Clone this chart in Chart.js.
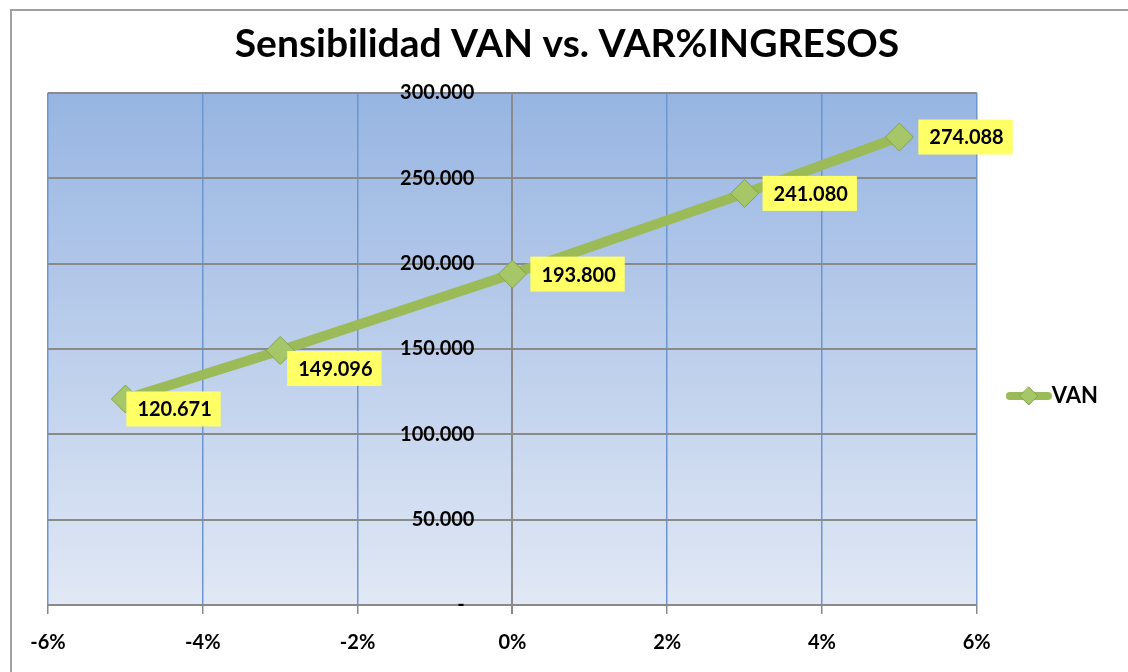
<!DOCTYPE html>
<html>
<head>
<meta charset="utf-8">
<script src="https://cdn.jsdelivr.net/npm/chart.js@4/dist/chart.umd.min.js"></script>
<style>
  html, body { margin: 0; padding: 0; background: #fff; }
  #wrap { width: 1128px; height: 672px; position: relative; }
</style>
</head>
<body>
<div id="wrap"><canvas id="chart" width="1128" height="672"></canvas></div>
<script>
// variación de ingresos (%) y VAN resultante
const variacion = [-5, -3, 0, 3, 5];
const van = [120671, 149096, 193800, 241080, 274088];
const seriesName = 'VAN';
const chartTitle = 'Sensibilidad VAN vs. VAR%INGRESOS';

// etiquetas movidas a mano como en el original (dx, dy respecto al punto)
const labelOffsets = [[1, 10], [7, 18], [18, 0], [18, 0], [19, 0]];

const FONT = 'Lato, "Open Sans", sans-serif';
const GREEN = '#9BBB59';

function fmtMiles(v) {
  if (v === 0) return '-  ';
  return String(Math.round(v)).replace(/\B(?=(\d{3})+(?!\d))/g, '.');
}

// muestra de leyenda: linea + rombo
function legendSample() {
  const c = document.createElement('canvas');
  c.width = 46; c.height = 22;
  const g = c.getContext('2d');
  g.strokeStyle = GREEN; g.lineWidth = 8; g.lineCap = 'round';
  g.beginPath(); g.moveTo(4, 11); g.lineTo(42, 11); g.stroke();
  g.fillStyle = '#A6C768'; g.strokeStyle = '#85A24A'; g.lineWidth = 1;
  g.beginPath(); g.moveTo(23, 2); g.lineTo(32, 11); g.lineTo(23, 20); g.lineTo(14, 11); g.closePath();
  g.fill(); g.stroke();
  return c;
}

const plotBackground = {
  id: 'plotBackground',
  beforeDraw(chart) {
    const {ctx, chartArea: a} = chart;
    ctx.save();
    // marco exterior del grafico
    ctx.strokeStyle = '#a0a0a0'; ctx.lineWidth = 2;
    ctx.beginPath(); ctx.moveTo(11, 680); ctx.lineTo(11, 10); ctx.lineTo(1140, 10); ctx.stroke();
    const grad = ctx.createLinearGradient(0, a.top, 0, a.bottom);
    grad.addColorStop(0, '#97B5E2');
    grad.addColorStop(1, '#E1E8F5');
    ctx.fillStyle = grad;
    ctx.fillRect(a.left, a.top, a.right - a.left, a.bottom - a.top);
    ctx.restore();
  }
};

const dataLabels = {
  id: 'dataLabels',
  afterDatasetsDraw(chart) {
    const {ctx} = chart;
    const meta = chart.getDatasetMeta(0);
    ctx.save();
    ctx.font = 'bold 20px ' + FONT;
    ctx.textBaseline = 'middle';
    meta.data.forEach((pt, i) => {
      const txt = fmtMiles(van[i]);
      const w = ctx.measureText(txt).width + 20;
      const h = 35;
      const [dx, dy] = labelOffsets[i];
      const x = pt.x + dx, y = pt.y + dy - h / 2;
      ctx.fillStyle = '#FFFF66';
      ctx.fillRect(x, y, w, h);
      ctx.fillStyle = '#000';
      ctx.fillText(txt, x + 11, y + h / 2 + 1);
    });
    ctx.restore();
  }
};

new Chart(document.getElementById('chart').getContext('2d'), {
  type: 'scatter',
  data: {
    datasets: [{
      label: seriesName,
      data: variacion.map((x, i) => ({x: x, y: van[i]})),
      showLine: true,
      borderColor: GREEN,
      borderWidth: 10,
      pointStyle: 'rectRot',
      pointRadius: 14,
      pointHoverRadius: 14,
      pointBackgroundColor: '#A6C768',
      pointBorderColor: '#85A24A',
      pointBorderWidth: 1
    }]
  },
  options: {
    responsive: false,
    animation: false,
    layout: { padding: { left: 26, right: 20, top: 0, bottom: 0 } },
    scales: {
      x: {
        type: 'linear',
        min: -6, max: 6,
        // margen izquierdo del area de trazado
        afterFit: scale => { scale.paddingLeft = 48; },
        ticks: {
          stepSize: 2,
          color: '#000',
          padding: 17,
          font: { family: FONT, size: 20, weight: 'bold' },
          callback: v => v + '%'
        },
        grid: {
          color: ctx => ctx.tick && ctx.tick.value === 0 ? '#8a8a8a' : '#6C96CF',
          lineWidth: ctx => ctx.tick && ctx.tick.value === 0 ? 2 : 1.5,
          tickLength: 9,
          tickColor: '#8a8a8a'
        },
        border: { color: '#8a8a8a', width: 2 }
      },
      y: {
        type: 'linear',
        // etiquetas a la izquierda del eje vertical (x = 0)
        position: { x: -0.49 },
        min: 0, max: 300000,
        ticks: {
          stepSize: 50000,
          color: '#000',
          font: { family: FONT, size: 20, weight: 'bold' },
          callback: v => fmtMiles(v)
        },
        grid: { color: '#8a8a8a', lineWidth: 2, drawTicks: false },
        border: { display: false }
      }
    },
    plugins: {
      title: {
        display: true,
        text: chartTitle,
        color: '#000',
        font: { family: FONT, size: 39, weight: 'bold' },
        padding: { top: 21, bottom: 25 }
      },
      legend: {
        position: 'right',
        title: { display: true, text: '', padding: { top: 105.6, bottom: 0 } },
        labels: {
          usePointStyle: true,
          pointStyle: legendSample(),
          pointStyleWidth: 24,
          padding: 40,
          color: '#000',
          font: { family: FONT, size: 22, weight: 'bold' }
        }
      },
      tooltip: { enabled: false }
    }
  },
  plugins: [plotBackground, dataLabels]
});
</script>
</body>
</html>
